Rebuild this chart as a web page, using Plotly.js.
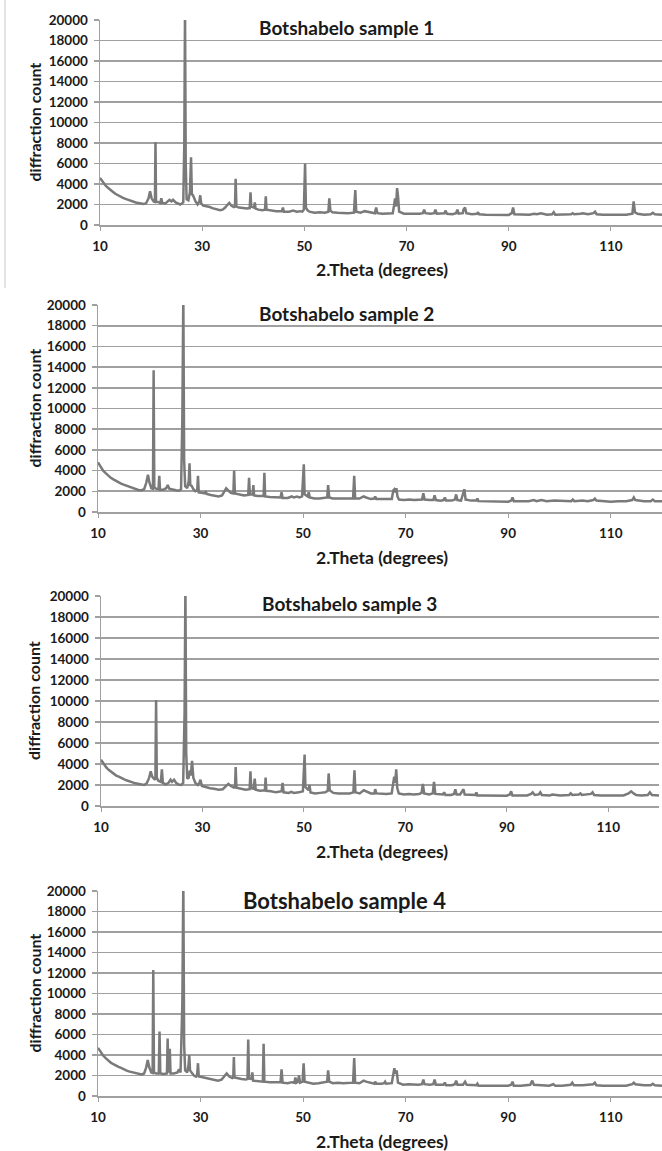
<!DOCTYPE html>
<html>
<head>
<meta charset="utf-8">
<script src="https://cdn.plot.ly/plotly-3.0.1.min.js"></script>
<style>html,body{margin:0;padding:0;background:#fff;}#chart{width:662px;height:1151px;}</style>
</head>
<body>
<div id="chart"></div>
<script>
const sampleTitles = ["Botshabelo sample 1", "Botshabelo sample 2", "Botshabelo sample 3", "Botshabelo sample 4"];
const xTickVals = [10, 30, 50, 70, 90, 110];
const yTickVals = [0, 2000, 4000, 6000, 8000, 10000, 12000, 14000, 16000, 18000, 20000];

const theta1 = [10,10.5,11,11.5,12,12.5,13,13.5,14,14.5,15,15.5,16,16.5,17,17.5,18,18.5,19,19.5,19.8,20.1,20.5,20.75,20.86,20.97,21.3,21.8,22.0,22.2,22.8,23.3,23.6,24.0,24.3,24.8,25.3,25.7,26.0,26.3,26.5,26.64,26.78,26.95,27.3,27.6,27.82,27.98,28.2,28.4,28.7,29.1,29.45,29.62,29.8,30.2,30.8,31.5,32,32.7,33.5,34,34.5,35.0,35.3,35.7,36.2,36.42,36.55,36.7,37.2,38,38.7,39.3,39.46,39.6,40.15,40.3,40.45,41,41.8,42.3,42.45,42.6,43.5,44.5,45.6,45.8,46.0,47,47.8,48.5,49.2,49.6,49.9,50.14,50.3,50.6,51,52,53,54,54.7,54.88,55.1,55.5,56.5,57.5,58.5,59.7,59.97,60.15,61,61.8,62.3,63,63.8,64.05,64.3,65.3,66.3,67.3,67.55,67.75,67.95,68.15,68.35,68.55,69.5,70.5,71.5,72.5,73.2,73.45,73.7,74.7,75.4,75.65,75.9,76.8,77.4,77.65,77.9,79,79.7,79.95,80.2,81.0,81.15,81.45,81.7,82.8,83.8,84.0,84.2,85.5,87,88.5,90,90.6,90.85,91.1,92.5,94,95.0,95.5,96.3,97.5,98.5,98.8,99.1,100.5,102.2,102.5,102.8,104.0,104.5,105.5,106.6,106.9,107.2,108.5,110,111.5,113,114.2,114.45,114.7,115.2,116.5,117.8,118.2,118.6,120];
const count1 = [4600,4200,3900,3650,3400,3250,3050,2900,2750,2650,2550,2450,2350,2300,2200,2150,2100,2050,2100,2600,3300,2600,2300,2250,8100,2300,2250,2150,2600,2150,2100,2300,2450,2300,2450,2200,2050,2000,2100,2200,8000,21000,6000,2500,2400,3200,6600,3000,2900,2600,2300,2000,2300,2900,2100,1900,1850,1750,1650,1550,1450,1500,1700,2000,2150,1900,1750,1800,4500,1800,1700,1650,1600,1650,3200,1800,1700,2200,1600,1500,1450,1500,2800,1500,1400,1350,1350,1700,1300,1300,1400,1300,1350,1300,1500,6000,1700,1450,1300,1200,1250,1200,1300,2600,1400,1250,1200,1150,1150,1200,3400,1300,1200,1350,1300,1200,1150,1700,1150,1100,1100,1150,1900,2600,1800,3600,2700,1300,1100,1100,1050,1100,1150,1500,1150,1100,1150,1500,1100,1100,1150,1400,1100,1050,1150,1500,1100,1150,1500,1700,1150,1050,1100,1250,1050,1000,1000,950,980,1150,1700,1050,1000,1000,1100,1050,1150,1000,1050,1250,1000,1000,1050,1150,1050,1100,1150,1050,1150,1300,1050,1000,1000,980,1000,1100,2300,1250,1100,1000,1050,1200,1050,1000];

const theta2 = [10,10.5,11,11.5,12,12.5,13,13.5,14,14.5,15,15.5,16,16.5,17,17.5,18,18.5,19,19.4,19.75,20.0,20.4,20.72,20.85,20.98,21.3,21.8,21.95,22.1,22.7,23.3,23.6,23.9,24.5,25.2,25.8,26.2,26.45,26.64,26.8,27.0,27.4,27.7,27.85,28.0,28.3,28.6,29.0,29.35,29.5,29.65,30.2,30.8,31.0,31.2,32,32.8,33.5,34.2,34.7,35.0,35.4,35.9,36.4,36.55,36.7,37.5,38.5,39.3,39.46,39.62,40.15,40.3,40.45,41.2,42.3,42.45,42.6,43.5,44.5,45.6,45.8,46.0,47.0,47.8,48.2,48.8,49.3,49.8,50.14,50.3,50.9,51.1,51.3,52.2,53.2,54.2,54.7,54.88,55.1,55.8,56.8,57.8,59.0,59.75,59.97,60.15,61.0,61.8,62.3,63.2,63.9,64.05,64.3,65.3,66.3,67.3,67.6,67.8,68.0,68.2,68.4,68.7,69.7,70.7,71.7,72.7,73.2,73.45,73.7,74.7,75.4,75.65,75.9,76.8,77.4,77.65,77.9,79.0,79.6,79.85,80.1,80.8,81.15,81.45,81.7,82.8,83.8,84.0,84.2,85.5,87,88.5,90,90.6,90.85,91.1,92.5,94,95.0,95.5,96.5,97.5,99,100.5,102.3,102.6,102.9,104.5,105.5,106.6,106.9,107.2,108.5,110,111.5,113,114.2,114.5,114.8,115.5,116.5,117.8,118.2,118.6,120];
const count2 = [4800,4350,4000,3750,3500,3300,3150,3000,2850,2750,2650,2550,2450,2350,2250,2150,2100,2100,2200,2800,3600,2900,2300,2250,13700,2400,2250,2200,3500,2150,2150,2300,2600,2250,2150,2100,2050,2200,9000,21000,5000,2500,2300,3000,4700,2600,2500,2200,2000,2100,3500,1900,1850,1800,2000,1750,1650,1550,1500,1600,2000,2300,2100,1850,1800,4000,1800,1700,1600,1650,3300,1700,1700,2600,1600,1550,1550,3800,1500,1450,1400,1400,1900,1350,1350,1500,1400,1500,1400,1500,4600,1700,1500,1900,1400,1300,1300,1350,1400,2600,1400,1300,1300,1250,1250,1300,3500,1300,1300,1500,1400,1250,1300,1500,1250,1250,1200,1250,2100,2200,1900,2300,1500,1200,1150,1200,1150,1150,1200,1800,1200,1150,1150,1600,1150,1100,1150,1400,1100,1100,1200,1700,1150,1100,1600,2200,1200,1100,1100,1300,1050,1050,1000,1000,1000,1100,1400,1050,1050,1050,1150,1050,1150,1050,1100,1050,1050,1200,1050,1100,1050,1150,1300,1100,1050,1000,1050,1050,1150,1400,1150,1100,1050,1050,1200,1050,1050];

const theta3 = [10,10.5,11,11.5,12,12.5,13,13.5,14,14.5,15,15.5,16,16.5,17,17.5,18,18.5,19,19.5,19.8,20.1,20.4,20.72,20.86,21.0,21.3,21.8,22.0,22.2,22.8,23.3,23.7,24.0,24.4,24.8,25.3,25.8,26.2,26.48,26.64,26.8,27.0,27.3,27.5,27.7,27.95,28.2,28.6,29.1,29.4,29.6,29.9,30.5,31.5,32.3,33.2,34.0,34.6,35.1,35.6,36.2,36.42,36.55,36.7,37.5,38.5,39.3,39.46,39.62,40.1,40.3,40.5,41.3,42.3,42.45,42.6,43.5,44.5,45.6,45.8,46.0,47.0,47.5,48.0,49.0,49.8,50.14,50.3,50.9,51.1,51.3,52.2,53.2,54.2,54.7,54.88,55.1,55.8,56.8,57.8,59.0,59.75,59.97,60.15,61.0,61.8,62.3,63.2,63.9,64.05,64.3,65.3,66.3,67.3,67.6,67.8,68.0,68.2,68.4,68.7,69.7,70.7,71.7,72.7,73.2,73.45,73.7,74.7,75.4,75.65,75.9,76.8,77.4,77.65,77.9,79.0,79.6,79.85,80.1,80.8,81.2,81.45,81.7,82.8,83.8,84.0,84.2,85.5,87,88.5,90,90.6,90.85,91.1,92.5,94,94.8,95.1,95.5,96.3,96.6,96.9,98.5,99,100.5,102.3,102.6,102.9,104.2,104.5,104.8,106.6,106.9,107.2,108.5,110,111.5,113,114.0,114.5,115.0,115.5,116.5,117.8,118.2,118.6,120];
const count3 = [4400,4000,3700,3450,3250,3050,2900,2800,2650,2550,2450,2350,2250,2200,2150,2100,2050,2000,2150,2700,3300,2800,2600,2500,10100,2700,2400,2300,3500,2200,2050,2200,2500,2300,2500,2200,2050,2000,2200,9000,21000,5000,2600,2700,3400,2900,4300,2700,2200,2000,2200,2500,1900,1800,1700,1650,1550,1600,1900,2100,1900,1750,1800,3700,1750,1650,1550,1600,3300,1700,1650,2600,1550,1450,1500,2700,1450,1400,1300,1400,2200,1300,1250,1350,1250,1300,1400,4900,1800,1500,2000,1300,1200,1250,1300,1450,3100,1500,1250,1200,1200,1200,1300,3400,1300,1200,1500,1400,1200,1200,1600,1200,1150,1150,1200,2400,2800,2200,3500,1700,1200,1100,1150,1100,1150,1250,2100,1200,1100,1200,2300,1150,1100,1100,1300,1050,1050,1150,1600,1100,1100,1500,1600,1100,1050,1050,1300,1000,1000,1000,950,980,1100,1400,1000,1000,1000,1150,1300,1050,1100,1300,1050,1000,1100,1000,1050,1200,1050,1100,1200,1050,1150,1300,1050,1000,1000,1000,1000,1200,1400,1200,1050,1000,1050,1300,1050,1000];

const theta4 = [10,10.5,11,11.5,12,12.5,13,13.5,14,14.5,15,15.5,16,16.5,17,17.5,18,18.5,19.0,19.4,19.7,20.0,20.4,20.65,20.78,20.92,21.3,21.85,22.0,22.15,22.8,23.45,23.58,23.72,23.88,24.0,24.15,24.8,25.5,25.8,26.1,26.45,26.64,26.8,27.0,27.4,27.65,27.8,27.95,28.3,28.7,29.1,29.35,29.5,29.65,30.2,31,31.8,32.6,33.4,34.1,34.7,35.1,35.6,36.2,36.38,36.5,36.62,37.3,38,38.8,39.15,39.3,39.45,39.95,40.1,40.25,41,41.8,42.15,42.3,42.45,43.5,44.5,45.6,45.8,46.0,47.0,47.8,48.3,48.5,48.7,49.0,49.2,49.4,49.9,50.1,50.3,51.0,52,53,54,54.7,54.88,55.1,55.8,56.8,57.8,59.0,59.75,59.97,60.15,61.0,61.8,62.3,63.2,63.9,64.05,64.3,65.3,65.8,66.0,66.2,67.3,67.6,67.8,68.0,68.25,68.5,69.5,70.5,71.5,72.5,73.2,73.45,73.7,74.7,75.4,75.65,75.9,76.8,77.4,77.65,77.9,79.0,79.6,79.85,80.1,81.2,81.6,81.9,82.8,83.8,84.0,84.2,85.5,87,88.5,90,90.6,90.85,91.1,92.5,94.3,94.7,95.0,96.5,98.0,98.8,99.2,100.5,102.2,102.5,102.8,104.5,106.6,106.9,107.2,108.5,110,111.5,113,114.2,114.5,114.8,115.5,116.5,117.8,118.2,118.6,120];
const count4 = [4700,4300,3950,3700,3450,3250,3100,2950,2850,2750,2600,2500,2400,2350,2250,2200,2150,2100,2200,2800,3500,2800,2300,2250,12300,2300,2200,2200,6300,2200,2150,2200,5600,2400,2400,4600,2200,2200,2300,2600,2300,9000,21000,5000,2500,2300,3000,4000,2500,2300,2000,1900,2100,3200,1900,1850,1750,1650,1550,1500,1600,2000,2200,1900,1750,1800,3800,1800,1700,1650,1600,1650,5500,1700,1650,2300,1500,1450,1400,1400,5100,1400,1350,1350,1350,2600,1300,1250,1350,1300,1800,1300,1400,2000,1300,1400,3200,1400,1300,1200,1250,1300,1400,2500,1400,1250,1300,1250,1250,1300,3700,1300,1250,1500,1400,1250,1200,1400,1200,1200,1250,1400,1200,1250,2300,2700,2200,2500,1300,1100,1150,1100,1100,1150,1600,1150,1100,1150,1600,1100,1100,1100,1300,1050,1050,1150,1500,1100,1100,1400,1100,1050,1050,1200,1000,1000,1000,1000,1000,1100,1400,1000,1000,1100,1500,1100,1050,1000,1150,1000,1000,1100,1300,1050,1050,1150,1300,1050,1000,1000,1000,1000,1150,1300,1150,1100,1050,1050,1200,1050,1000];

const thetas = [theta1, theta2, theta3, theta4];
const counts = [count1, count2, count3, count4];

// layout geometry (pixels in 662x1151 page)
const W = 662, H = 1151;
const panels = [
  {left: 100, right: 662, top: 20, bottom: 225, titleX: 346, titleY: 27, titleSize: 19},
  {left: 98, right: 662, top: 305, bottom: 512, titleX: 346, titleY: 313, titleSize: 19},
  {left: 101, right: 659, top: 596, bottom: 806, titleX: 349, titleY: 603, titleSize: 19},
  {left: 98, right: 662, top: 891, bottom: 1096, titleX: 344, titleY: 900, titleSize: 22}
];

const FONT = "Lato, 'Open Sans', sans-serif";
const TXT = "#1a1a1a";
const GRID = "#a0a0a0";
const LINE = "#7a7a7a";

const traces = [];
const layout = {
  width: W, height: H,
  margin: {l: 0, r: 0, t: 0, b: 0},
  paper_bgcolor: "#fff", plot_bgcolor: "#fff",
  showlegend: false,
  font: {family: FONT, color: TXT, size: 13, weight: "bold"},
  annotations: [],
  shapes: [
    {type: "line", xref: "paper", yref: "paper", x0: 5/W, x1: 5/W, y0: 1, y1: 1 - 288/H,
     line: {color: "#c8c8c8", width: 1}}
  ]
};

panels.forEach((p, i) => {
  const n = i === 0 ? "" : String(i + 1);
  traces.push({
    x: thetas[i], y: counts[i], type: "scatter", mode: "lines",
    xaxis: "x" + n, yaxis: "y" + n,
    line: {color: LINE, width: 2.5}, hoverinfo: "skip"
  });
  layout["xaxis" + n] = {
    domain: [p.left / W, p.right / W], anchor: "y" + n,
    range: [10, 120], tickvals: xTickVals, ticktext: xTickVals.map(String),
    showgrid: false, zeroline: false, showline: true, linecolor: GRID, linewidth: 1.5,
    ticks: "outside", ticklen: 4, tickcolor: GRID, tickwidth: 1,
    tickfont: {family: FONT, size: 13.5, color: TXT, weight: "bold"},
    ticklabelstandoff: 4, fixedrange: true
  };
  layout["yaxis" + n] = {
    domain: [1 - p.bottom / H, 1 - p.top / H], anchor: "x" + n,
    range: [0, 20000], tickvals: yTickVals, ticktext: yTickVals.map(String),
    showgrid: true, gridcolor: GRID, gridwidth: 1.6, zeroline: false,
    showline: true, linecolor: GRID, linewidth: 1.5,
    ticks: "outside", ticklen: 5, tickcolor: GRID, tickwidth: 1.5,
    tickfont: {family: FONT, size: 13.5, color: TXT, weight: "bold"},
    ticklabelstandoff: 3, fixedrange: true
  };
  layout.annotations.push({
    text: sampleTitles[i], xref: "paper", yref: "paper",
    x: p.titleX / W, y: 1 - p.titleY / H, xanchor: "center", yanchor: "middle",
    showarrow: false, font: {family: FONT, size: p.titleSize, color: TXT, weight: "bold"}
  });
  layout.annotations.push({
    text: "diffraction count", xref: "paper", yref: "paper",
    x: 34 / W, y: 1 - ((p.top + p.bottom) / 2) / H, xanchor: "center", yanchor: "middle",
    textangle: -90, showarrow: false, font: {family: FONT, size: 16, color: TXT, weight: "bold"}
  });
  layout.annotations.push({
    text: "2.Theta (degrees)", xref: "paper", yref: "paper",
    x: 382 / W, y: 1 - (p.bottom + 45) / H, xanchor: "center", yanchor: "middle",
    showarrow: false, font: {family: FONT, size: 17.5, color: TXT, weight: "bold"}
  });
});

Plotly.newPlot("chart", traces, layout, {displayModeBar: false, staticPlot: true});
</script>
</body>
</html>
